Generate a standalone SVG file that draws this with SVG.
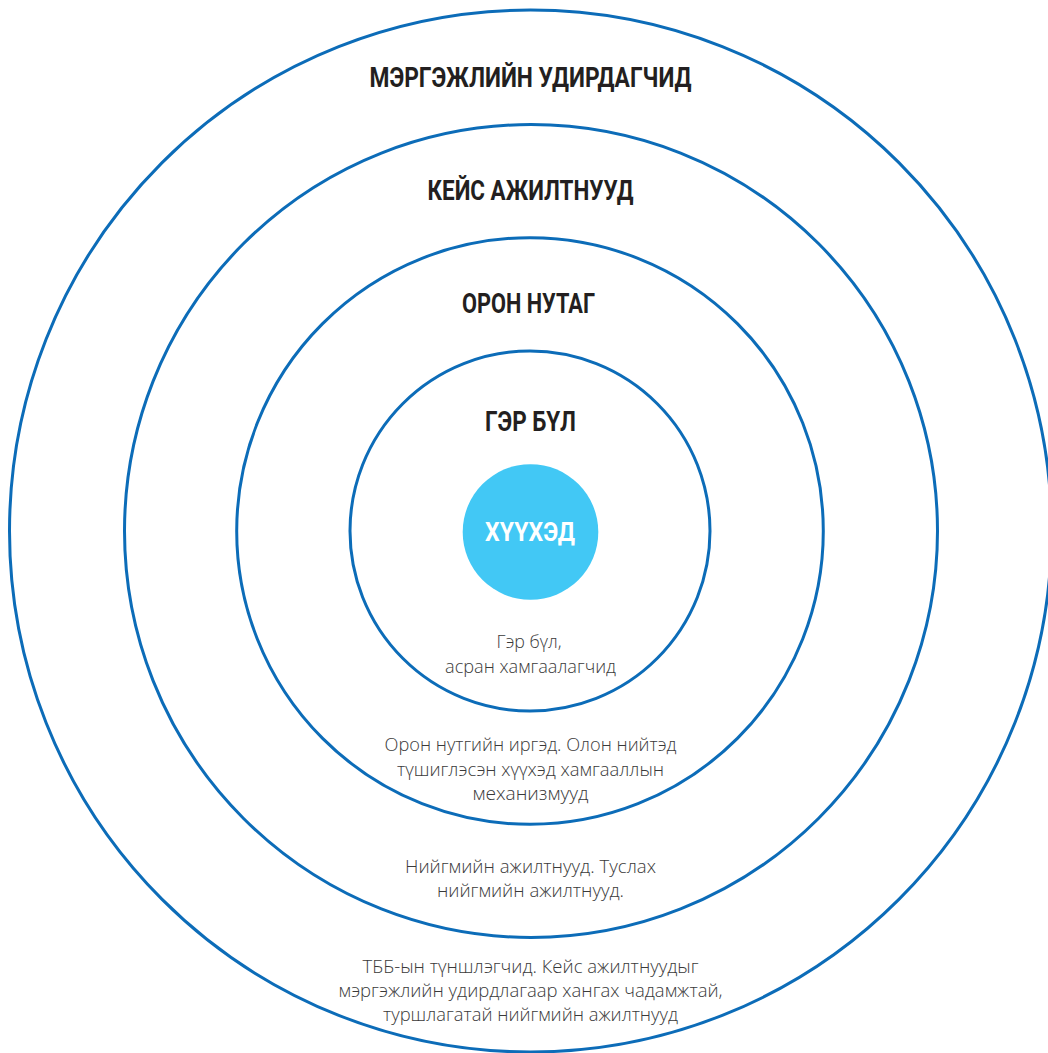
<svg xmlns="http://www.w3.org/2000/svg" width="1048" height="1053" viewBox="0 0 1048 1053">
<style>
.ring{fill:none;stroke:#0C6CB8;stroke-width:3}
.head{font-family:Roboto,"Liberation Sans",sans-serif;font-weight:700;font-size:28px;fill:#231F20;text-anchor:middle}
.body{font-family:"Open Sans","Noto Sans",sans-serif;font-weight:300;font-size:17.5px;fill:#3a3a3a;text-anchor:middle}
</style>
<rect width="1048" height="1053" fill="#ffffff"/>
<g id="ring-managers">
<circle class="ring" cx="530.5" cy="531" r="521"/>
<text class="head" x="530.5" y="86.5" textLength="322" lengthAdjust="spacingAndGlyphs">МЭРГЭЖЛИЙН УДИРДАГЧИД</text>
<text class="body" x="530.5" y="972.5" textLength="336" lengthAdjust="spacingAndGlyphs">ТББ-ын түншлэгчид. Кейс ажилтнуудыг</text>
<text class="body" x="530.5" y="997" textLength="384" lengthAdjust="spacingAndGlyphs">мэргэжлийн удирдлагаар хангах чадамжтай,</text>
<text class="body" x="530.5" y="1021" textLength="295" lengthAdjust="spacingAndGlyphs">туршлагатай нийгмийн ажилтнууд</text>
</g>
<g id="ring-caseworkers">
<circle class="ring" cx="531" cy="531" r="406.5"/>
<text class="head" x="530.5" y="200" textLength="206" lengthAdjust="spacingAndGlyphs">КЕЙС АЖИЛТНУУД</text>
<text class="body" x="530.5" y="873.3" textLength="251" lengthAdjust="spacingAndGlyphs">Нийгмийн ажилтнууд. Туслах</text>
<text class="body" x="530.5" y="897.3" textLength="187" lengthAdjust="spacingAndGlyphs">нийгмийн ажилтнууд.</text>
</g>
<g id="ring-community">
<circle class="ring" cx="530" cy="531" r="293.3"/>
<text class="head" x="528.5" y="313" textLength="133" lengthAdjust="spacingAndGlyphs">ОРОН НУТАГ</text>
<text class="body" x="530.5" y="751" textLength="292" lengthAdjust="spacingAndGlyphs">Орон нутгийн иргэд. Олон нийтэд</text>
<text class="body" x="530.5" y="776" textLength="267" lengthAdjust="spacingAndGlyphs">түшиглэсэн хүүхэд хамгааллын</text>
<text class="body" x="530.5" y="800" textLength="116" lengthAdjust="spacingAndGlyphs">механизмууд</text>
</g>
<g id="ring-family">
<circle class="ring" cx="530" cy="531" r="180"/>
<text class="head" x="530.5" y="431" textLength="91" lengthAdjust="spacingAndGlyphs">ГЭР БҮЛ</text>
<text class="body" x="529" y="648" textLength="65" lengthAdjust="spacingAndGlyphs">Гэр бүл,</text>
<text class="body" x="530.5" y="672.5" textLength="171" lengthAdjust="spacingAndGlyphs">асран хамгаалагчид</text>
</g>
<g id="child">
<circle cx="530.5" cy="532" r="67.8" fill="#42C8F5"/>
<text class="head" x="530" y="541" style="font-size:25px;fill:#ffffff" textLength="90" lengthAdjust="spacingAndGlyphs">ХҮҮХЭД</text>
</g>
<g id="connectors"></g>
</svg>
